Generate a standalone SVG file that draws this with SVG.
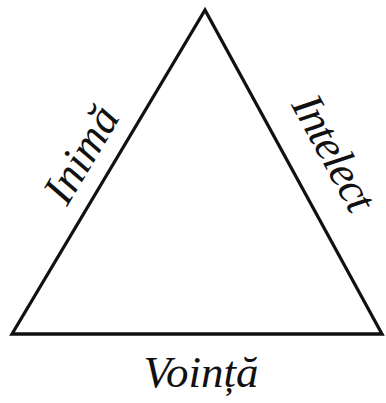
<svg xmlns="http://www.w3.org/2000/svg" width="386" height="403" viewBox="0 0 386 403">
<style>
.edge{fill:none;stroke:#111;stroke-width:3.3;stroke-linejoin:miter}
.lbl{font-family:"Liberation Serif","Times New Roman",serif;font-style:italic;font-size:45px;fill:#111;text-anchor:middle}
</style>
<rect width="386" height="403" fill="#fff"/>
<g id="connectors">
<polygon class="edge" points="205,10 382,334 12,334"/>
</g>
<g id="inima"><text class="lbl" transform="translate(94,162) rotate(-59.2)">Inimă</text></g>
<g id="intelect"><text class="lbl" transform="translate(321,160) rotate(61.4)" textLength="126" lengthAdjust="spacing">Intelect</text></g>
<g id="vointa"><text class="lbl" x="201" y="387">Voință</text></g>
</svg>
